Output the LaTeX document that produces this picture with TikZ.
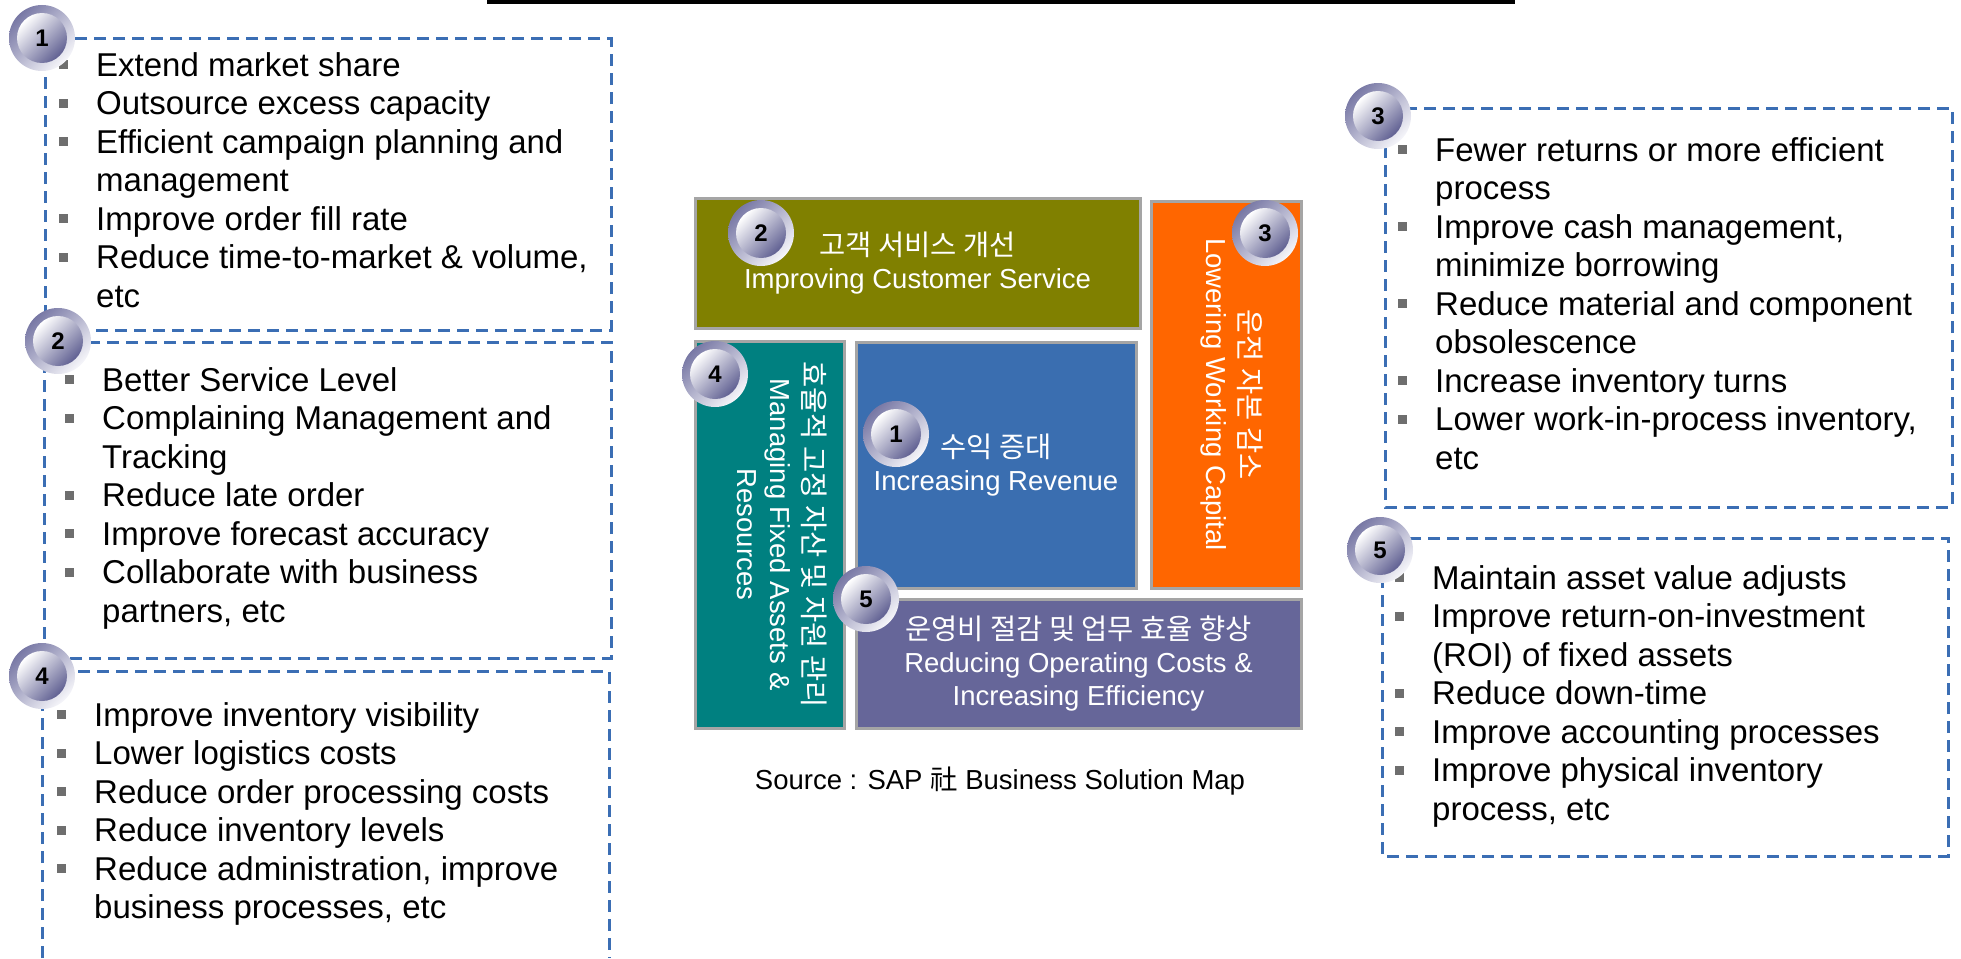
\documentclass[tikz,border=0pt]{standalone}
\usepackage{fontspec}
\setmainfont{Liberation Sans}
\newfontfamily\kr{Noto Sans CJK KR}
\usepackage{tikz}
\usepackage{xcolor}
\usetikzlibrary{calc}

\definecolor{dashblue}{RGB}{59,110,180}
\definecolor{bulgray}{RGB}{110,110,110}
\definecolor{edgegray}{RGB}{165,165,165}
\definecolor{olivebox}{RGB}{128,128,0}
\definecolor{orangebox}{RGB}{255,102,0}
\definecolor{tealbox}{RGB}{0,128,128}
\definecolor{bluebox}{RGB}{58,110,176}
\definecolor{purplebox}{RGB}{102,102,153}
\definecolor{ringdark}{RGB}{120,120,165}
\definecolor{ringlight}{RGB}{246,246,250}
\definecolor{orbdark}{RGB}{96,96,146}

\newcommand{\bl}{\strut\llap{\textcolor{bulgray}{\rule[7pt]{9pt}{9pt}}\hspace{28pt}}}
\newcommand{\krtext}{\kr\fontsize{28.5}{33}\selectfont}

\tikzset{
    dashbox/.style={draw=dashblue, line width=3pt, dash pattern=on 12pt off 7pt},
    listtext/.style={anchor=north west, inner sep=0pt, align=left, font=\fontsize{33}{38.5}\selectfont},
    block/.style={draw=edgegray, line width=3pt, text=white, align=center, inner sep=0pt, font=\fontsize{27.5}{33}\selectfont},
    badge/.style={circle, minimum size=66pt, inner sep=0pt, font=\fontsize{24}{24}\selectfont\bfseries,
        path picture={
            \shade[top color=ringdark, bottom color=ringlight, shading angle=45]
                (path picture bounding box.south west) rectangle (path picture bounding box.north east);
            \shade[top color=white, bottom color=orbdark, shading angle=45]
                (path picture bounding box.center) circle (25pt);
        }}
}

\begin{document}
\begin{tikzpicture}[x=1pt, y=1pt]
    \useasboundingbox (0,0) rectangle (1961,-958);
    \fill (487,0) rectangle (1515,-4.5);

    % dashed lists
    \draw[dashbox] (45,-39) rectangle (611,-330);
    \draw[dashbox] (44,-342) rectangle (611,-658);
    \draw[dashbox] (42,-958) -- (42,-671) -- (609,-671) -- (609,-958);
    \draw[dashbox] (1385,-108) rectangle (1952,-507);
    \draw[dashbox] (1382,-538) rectangle (1948,-856);

    \node[listtext] (list1) at (96,-49) {\bl Extend market share\\
        \bl Outsource excess capacity\\
        \bl Efficient campaign planning and\\
        \strut management\\
        \bl Improve order fill rate\\
        \bl Reduce time-to-market \& volume,\\
        \strut etc};
    \node[listtext] (list2) at (102,-364) {\bl Better Service Level\\
        \bl Complaining Management and\\
        \strut Tracking\\
        \bl Reduce late order\\
        \bl Improve forecast accuracy\\
        \bl Collaborate with business\\
        \strut partners, etc};
    \node[listtext] (list4) at (94,-699) {\bl Improve inventory visibility\\
        \bl Lower logistics costs\\
        \bl Reduce order processing costs\\
        \bl Reduce inventory levels\\
        \bl Reduce administration, improve\\
        \strut business processes, etc};
    \node[listtext] (list3) at (1435,-134) {\bl Fewer returns or more efficient\\
        \strut process\\
        \bl Improve cash management,\\
        \strut minimize borrowing\\
        \bl Reduce material and component\\
        \strut obsolescence\\
        \bl Increase inventory turns\\
        \bl Lower work-in-process inventory,\\
        \strut etc};
    \node[listtext] (list5) at (1432,-562) {\bl Maintain asset value adjusts\\
        \bl Improve return-on-investment\\
        \strut (ROI) of fixed assets\\
        \bl Reduce down-time\\
        \bl Improve accounting processes\\
        \bl Improve physical inventory\\
        \strut process, etc};

    % solution map
    \node[block, fill=olivebox, minimum width=445pt, minimum height=130pt] (cust) at (917.5,-263)
        {{\krtext 고객 서비스 개선}\\Improving Customer Service};
    \node[block, fill=orangebox, minimum width=387pt, minimum height=150pt, rotate=-90, text depth=18pt] (cap) at (1226,-394.5)
        {{\krtext 운전 자본 감소}\\Lowering Working Capital};
    \node[block, fill=tealbox, minimum width=387pt, minimum height=149pt, rotate=-90, text depth=26pt] (asset) at (769.5,-534.5)
        {{\krtext 효율적 고정 자산 및 자원 관리}\\Managing Fixed Assets \&\\Resources};
    \node[block, fill=bluebox, minimum width=280pt, minimum height=246pt] (rev) at (996,-465)
        {{\krtext 수익 증대}\\Increasing Revenue};
    \node[block, fill=purplebox, minimum width=445pt, minimum height=129pt] (cost) at (1078.5,-663.5)
        {{\krtext 운영비 절감 및 업무 효율 향상}\\Reducing Operating Costs \&\\Increasing Efficiency};

    \node[font=\fontsize{27.5}{30}\selectfont] (source) at (1000,-781) {Source : SAP {\kr 社} Business Solution Map};

    \foreach \nm/\pos/\num in {lb1/{(42,-38)}/1, lb2/{(58,-341)}/2, lb4/{(42,-676)}/4,
        rb3/{(1378,-116)}/3, rb5/{(1380,-550)}/5,
        cb2/{(761,-233)}/2, cb3/{(1265,-233)}/3, cb4/{(715,-374)}/4,
        cb1/{(896,-434)}/1, cb5/{(866,-599)}/5} {
        \node[badge] (\nm) at \pos {\num};
    }
\end{tikzpicture}
\end{document}
